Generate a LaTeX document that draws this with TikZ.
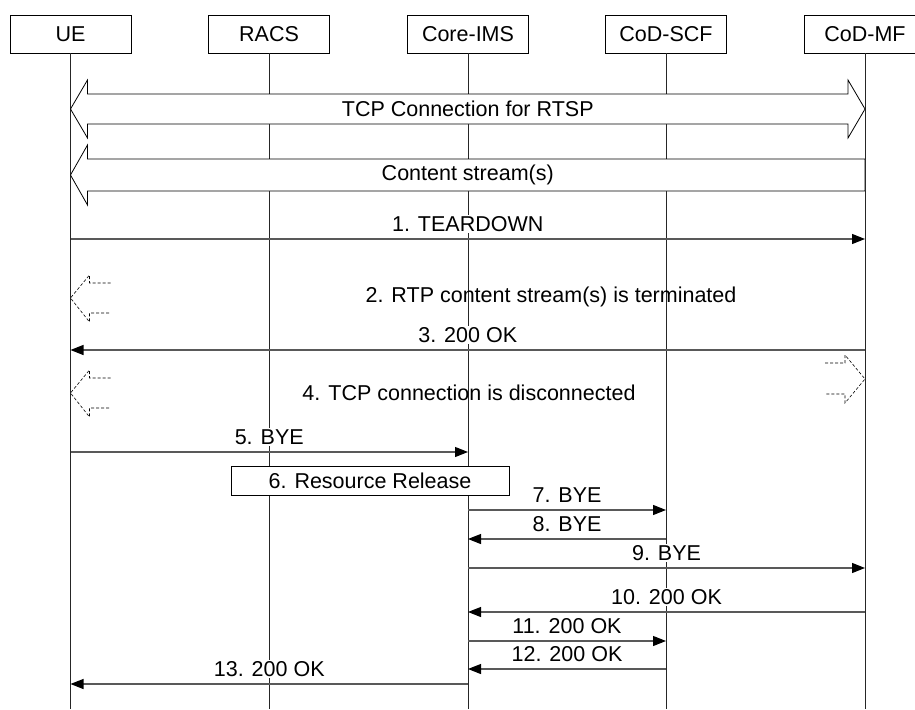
\documentclass[tikz,border=0pt]{standalone}
\usepackage{fontspec}
\setmainfont{Liberation Sans}
\usetikzlibrary{arrows.meta,positioning,calc}

\tikzset{
  actor/.style={draw,thin,minimum width=121pt,minimum height=38pt,inner sep=0pt,font=\fontsize{21.5}{24}\selectfont},
  life/.style={black!85,line width=0.8pt},
  msg/.style={gray!70!black,line width=1.1pt,-{Triangle[length=13pt,width=10pt,color=black]}},
  lbl/.style={above=5pt,fill=white,inner sep=1.5pt,text=black,font=\fontsize{21.5}{24}\selectfont},
  txt/.style={inner sep=0pt,font=\fontsize{21.5}{24}\selectfont},
  wide/.style={draw=black,fill=white,line width=0.8pt,line join=miter},
  dasharrow/.style={black,line width=0.6pt,dash pattern=on 3pt off 2pt}
}

\begin{document}
\begin{tikzpicture}[x=1pt,y=-1pt]
\useasboundingbox (0,0) rectangle (915,709);
% entities
\node[actor] (ue) at (70.5,34) {UE};
\node[actor] (racs) at (269,34) {RACS};
\node[actor] (ims) at (468,34) {Core-IMS};
\node[actor] (scf) at (666,34) {CoD-SCF};
\node[actor] (mf) at (865,34) {CoD-MF};
\coordinate (bot) at (0,709);
\foreach \e in {ue,racs,ims,scf,mf}
  \draw[life] (\e.south) -- (\e |- bot);
% TCP connection and content stream
\coordinate (tcp) at (0,109);
\coordinate (cs) at (0,175);
\draw[wide] (ue |- tcp) -- ++(17,-29) -- ++(0,14) -- ($(mf |- tcp)+(-17,-15)$) -- ++(0,-14)
  -- (mf |- tcp) -- ++(-17,29) -- ++(0,-14) -- ($(ue |- tcp)+(17,15)$) -- ++(0,14) -- cycle;
\node[txt] (tcptxt) at ($(ue |- tcp)!0.5!(mf |- tcp)$) {TCP Connection for RTSP};
\draw[wide] (ue |- cs) -- ++(17,-30) -- ++(0,14) -- ($(mf |- cs)+(0,-16)$) -- ++(0,32)
  -- ($(ue |- cs)+(17,16)$) -- ++(0,14) -- cycle;
\node[txt] (cstxt) at ($(ue |- cs)!0.5!(mf |- cs)$) {Content stream(s)};
% terminations (dashed)
\coordinate (d2) at (0,298);
\coordinate (d4) at (0,393);
\coordinate (d4r) at (0,379);
\foreach \r in {d2,d4}
  \draw[dasharrow] ($(ue |- \r)+(40,-15)$) -- ++(-21,0) -- ++(0,-8) -- (ue |- \r)
    -- ++(19,24) -- ++(0,-9) -- ++(21,0);
\draw[dasharrow] ($(mf |- d4r)+(-40,-16)$) -- ++(20,0) -- ++(0,-8) -- (mf |- d4r)
  -- ++(-20,24) -- ++(0,-9) -- ++(-20,0);
\node[txt] (t2) at (551,297) {2. RTP content stream(s) is terminated};
\node[txt] (t4) at (469,393) {4. TCP connection is disconnected};
% resource release
\node[draw,fill=white,line width=0.8pt,minimum width=278pt,minimum height=29pt,inner sep=0pt,
  font=\fontsize{21.5}{24}\selectfont] (rr) at (370,480.5) {6. Resource Release};
% messages
\foreach \a/\b/\y/\t [count=\i] in {ue/mf/239/1. TEARDOWN, mf/ue/350/3. 200 OK,
    ue/ims/452/5. BYE, ims/scf/510/7. BYE, scf/ims/539/8. BYE, ims/mf/568/9. BYE,
    mf/ims/612/10. 200 OK, ims/scf/641/11. 200 OK, scf/ims/669/12. 200 OK, ims/ue/684/13. 200 OK}
{
  \coordinate (m\i) at (0,\y);
  \draw[msg] (\a |- m\i) -- node[lbl] {\t} (\b |- m\i);
}
\end{tikzpicture}
\end{document}
